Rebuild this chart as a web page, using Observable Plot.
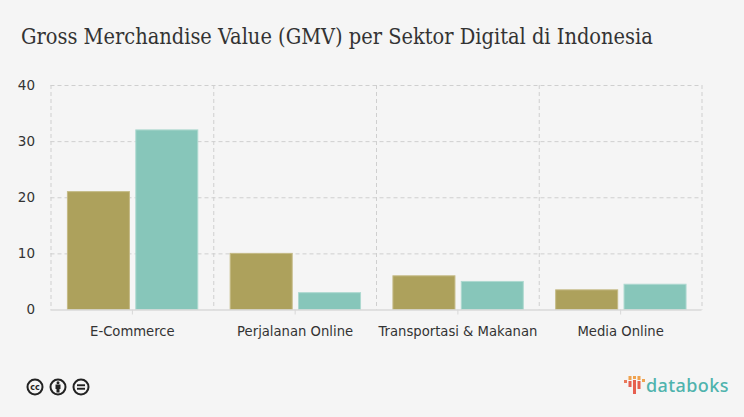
<!DOCTYPE html>
<html><head><meta charset="utf-8">
<script src="https://cdn.jsdelivr.net/npm/d3@7"></script>
<script src="https://cdn.jsdelivr.net/npm/@observablehq/plot@0.6"></script>
<style>
html,body{margin:0;padding:0;background:#f5f5f5;width:744px;height:417px;overflow:hidden}
#wrap{position:relative;width:744px;height:417px}
#title{height:70px;box-sizing:border-box;padding:24px 0 0 21px;font:21.6px "DejaVu Serif Condensed","DejaVu Serif",serif;font-stretch:condensed;color:#333;white-space:nowrap}
#cc{position:absolute;left:26px;top:378px}
#logo{position:absolute;left:622px;top:373px}
#logoText{position:absolute;left:646px;top:373px;font:500 18px "Noto Sans",sans-serif;letter-spacing:0.4px;color:#4fb3ad;line-height:24px}
svg{display:block}
</style></head><body>
<div id="wrap">
<div id="title">Gross Merchandise Value (GMV) per Sektor Digital di Indonesia</div>
<div id="chart"></div>
<svg id="cc" width="82" height="18" viewBox="0 0 82 18">
 <g fill="none" stroke="#222" stroke-width="2">
  <circle cx="9" cy="9" r="7.5"/><circle cx="32" cy="9" r="7.5"/><circle cx="55" cy="9" r="7.5"/>
 </g>
 <text x="9" y="12" text-anchor="middle" font-family="DejaVu Sans" font-weight="bold" font-size="8" fill="#222">cc</text>
 <g fill="#222"><circle cx="32" cy="4.8" r="1.5"/><rect x="29.5" y="6.5" width="5" height="4.5"/><rect x="30.5" y="10" width="3" height="4.5"/>
 <rect x="51" y="6.3" width="8" height="1.9"/><rect x="51" y="9.8" width="8" height="1.9"/></g>
</svg>
<svg id="logo" width="24" height="24" viewBox="0 0 24 24">
 <rect x="2" y="7" width="3" height="3" fill="#e9795a"/>
 <rect x="6.5" y="3" width="3" height="4" fill="#f0a24e"/><rect x="6.5" y="8" width="3" height="6" fill="#e65f50"/>
 <rect x="11" y="3" width="3" height="3" fill="#f0a24e"/><rect x="11" y="7" width="3" height="14" fill="#e65f50"/>
 <rect x="15.5" y="3" width="3" height="4" fill="#f0a24e"/><rect x="15.5" y="8" width="3" height="8" fill="#e65f50"/>
 <rect x="20" y="6" width="3" height="3" fill="#f0a24e"/>
</svg>
<div id="logoText">databoks</div>
</div>
<script>
const categories = ["E-Commerce","Perjalanan Online","Transportasi & Makanan","Media Online"];
const seriesA = [21,10,6,3.5];
const seriesB = [32,3,5,4.5];
const yTicks = [0,10,20,30,40];
const barColors = {a:"#ada15c",b:"#87c6ba"};
const bars = categories.flatMap((c,i)=>[
  {c,s:"a",v:seriesA[i],x1:i+0.104,x2:i+0.485},
  {c,s:"b",v:seriesB[i],x1:i+0.524,x2:i+0.905}
]);
const boundaries = d3.range(categories.length+1);
const centers = categories.map((c,i)=>i+0.5);
const font = '"DejaVu Sans",sans-serif';
const grid = {stroke:"#cfcfcf",strokeDasharray:"4,3",strokeWidth:1,strokeOpacity:1};
const plot = Plot.plot({
  width:744,height:270,
  marginTop:15,marginBottom:30.5,marginLeft:50.5,marginRight:42.5,
  style:{background:"transparent",fontFamily:font,fontSize:"13px",color:"#333",overflow:"visible"},
  x:{type:"linear",domain:[0,categories.length]},
  y:{domain:[0,40]},
  marks:[
    Plot.ruleY(yTicks.slice(1),grid),
    Plot.ruleX(boundaries,grid),
    Plot.rectY(bars,{x1:"x1",x2:"x2",y:"v",fill:d=>barColors[d.s],stroke:d=>d.s==="a"?"#c4ba85":"#aed9d0",strokeWidth:1}),
    Plot.ruleY([0],{stroke:"#d8d8d8",strokeWidth:1.5}),
    Plot.axisY({ticks:yTicks,tickSize:0,tickPadding:16,label:null,fontSize:13.5}),
    Plot.axisX({ticks:centers,tickFormat:(d)=>categories[Math.round(d-0.5)],tickSize:5,tickPadding:12,label:null,stroke:"#d8d8d8",fill:"#333",fontSize:13.2,textStroke:"none"})
  ]
});
document.getElementById("chart").appendChild(plot);
</script>
</body></html>
